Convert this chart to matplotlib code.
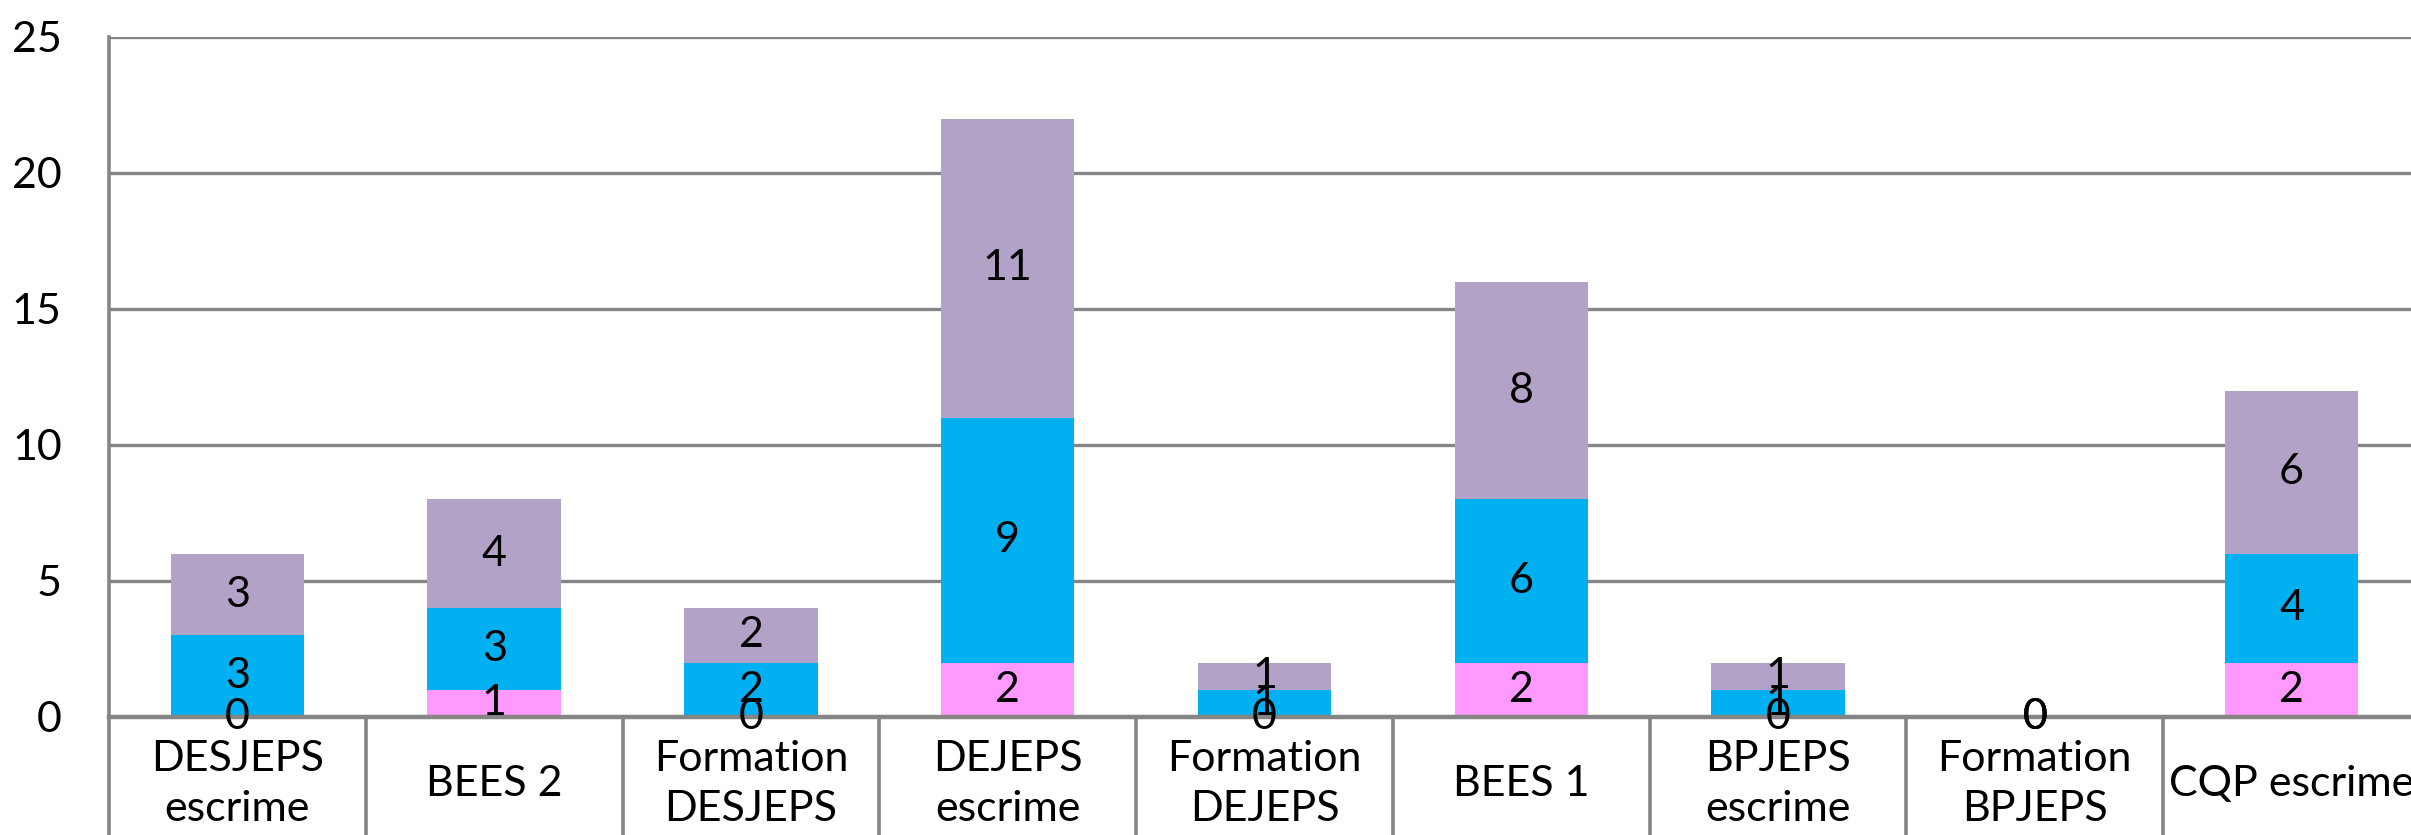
import numpy as np
import matplotlib.pyplot as plt

categories = ['DESJEPS\nescrime', 'BEES 2', 'Formation\nDESJEPS', 'DEJEPS\nescrime',
              'Formation\nDEJEPS', 'BEES 1', 'BPJEPS\nescrime', 'Formation\nBPJEPS',
              'CQP escrime']
pink_vals = [0, 1, 0, 2, 0, 2, 0, 0, 2]
blue_vals = [3, 3, 2, 9, 1, 6, 1, 0, 4]
purple_vals = [3, 4, 2, 11, 1, 8, 1, 0, 6]

plt.rcParams['font.family'] = ['Lato', 'DejaVu Sans']

fig = plt.figure(figsize=(24.11, 8.35), dpi=100)
# axes run past the right edge of the picture, like the cropped original
ax = fig.add_axes([109 / 2411, 118 / 835, 2311 / 2411, 680 / 835])

x = np.arange(len(categories))
bar_width = 0.52
grid_col = '#858585'

bottom = np.zeros(len(x))
for vals, col in [(pink_vals, '#FF99FF'), (blue_vals, '#00B0F0'), (purple_vals, '#B2A2C7')]:
    bars = ax.bar(x, vals, bar_width, bottom=bottom, color=col, zorder=3)
    ax.bar_label(bars, labels=[str(v) for v in vals], label_type='center',
                 fontsize=31, color='black', zorder=5)
    bottom += np.array(vals)

ax.set_xlim(-0.5, len(categories) - 0.5)
ax.set_ylim(0, 25)
ax.set_yticks(range(0, 26, 5))
ax.yaxis.grid(True, color=grid_col, linewidth=2.4)
ax.set_axisbelow(True)
ax.set_xticks([])
ax.tick_params(axis='y', length=0, pad=34, labelsize=31)

for side in ['top', 'right']:
    ax.spines[side].set_visible(False)
ax.spines['left'].set_color(grid_col)
ax.spines['left'].set_linewidth(2.6)
ax.spines['bottom'].set_color(grid_col)
ax.spines['bottom'].set_linewidth(3.2)
ax.spines['bottom'].set_zorder(4)

# category cells below the axis
trans = ax.get_xaxis_transform()
for b in np.arange(-0.5, len(categories), 1.0):
    ax.plot([b, b], [0, -0.3], transform=trans, clip_on=False, color=grid_col, linewidth=2.6)
for i, lab in enumerate(categories):
    ax.text(i, -0.0985, lab, transform=trans, ha='center', va='center',
            fontsize=31, linespacing=1.4)

plt.savefig('out.png', dpi=100)
